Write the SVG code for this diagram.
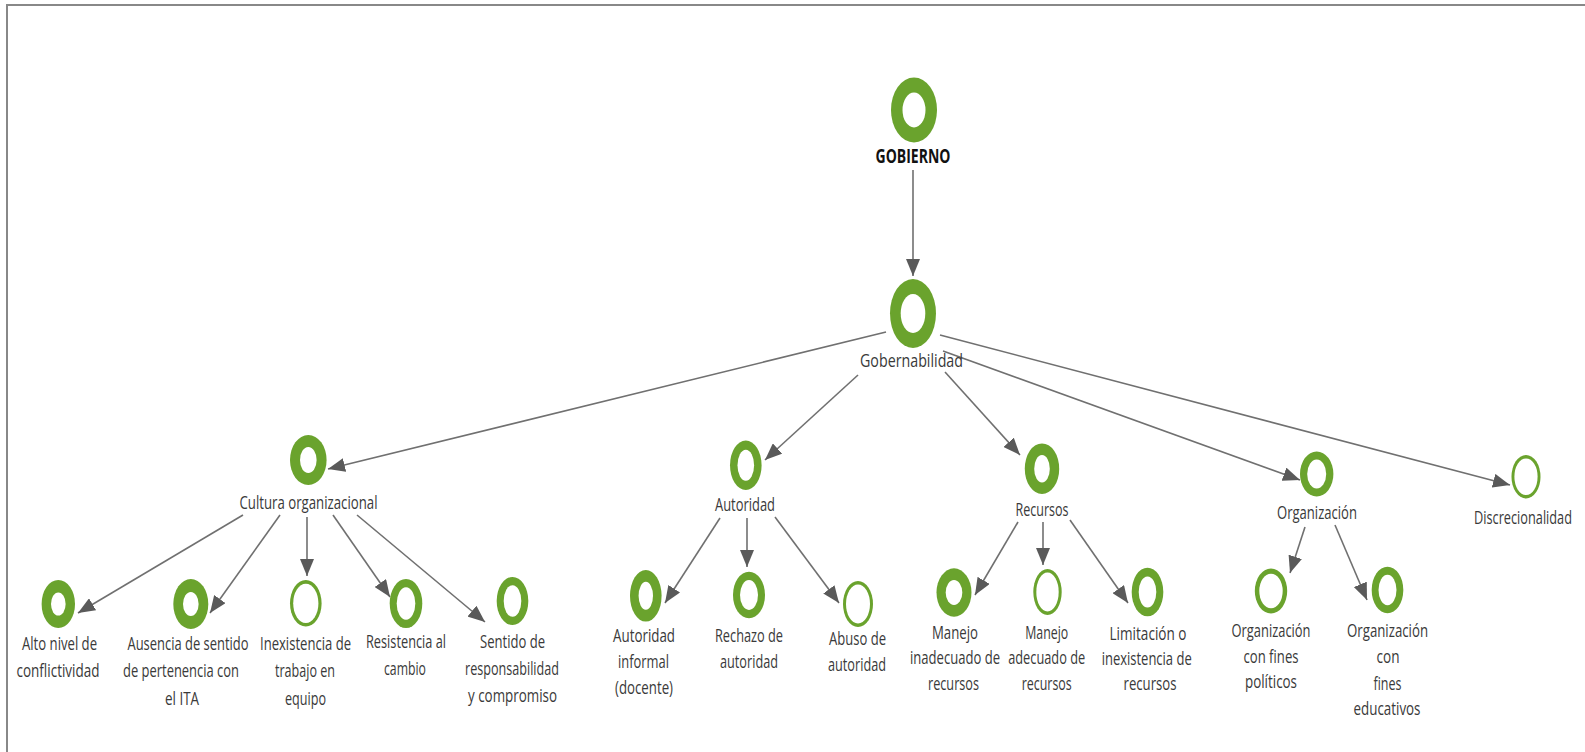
<svg xmlns="http://www.w3.org/2000/svg" width="1585" height="752" viewBox="0 0 1585 752">
<style>
.ring{fill:#6aa32d}
.hole{fill:#fff}
.lbl{font-family:"Open Sans","Noto Sans",sans-serif;font-size:18px;fill:#3a3a3a;text-anchor:middle}
.root{font-family:"Open Sans","Noto Sans",sans-serif;font-size:20px;font-weight:bold;fill:#111;text-anchor:middle}
.conn line{stroke:#707070;stroke-width:1.6;marker-end:url(#arr)}
</style>
<defs>
<marker id="arr" markerUnits="userSpaceOnUse" markerWidth="18" markerHeight="14" refX="17" refY="7" orient="auto">
<path d="M0,0 L17,7 L0,14 Z" fill="#5a5a5a"/>
</marker>
</defs>
<rect width="1585" height="752" fill="#fff"/>
<path d="M7,752 V5 H1585" fill="none" stroke="#888" stroke-width="2"/>
<g class="conn" id="connectors">
<line x1="913" y1="170" x2="913" y2="276"/>
<line x1="886" y1="332" x2="328" y2="469"/>
<line x1="858" y1="375" x2="765" y2="460"/>
<line x1="945" y1="372" x2="1020" y2="455"/>
<line x1="943" y1="351" x2="1300" y2="480"/>
<line x1="940" y1="335" x2="1510" y2="485"/>
<line x1="243" y1="515" x2="78" y2="613"/>
<line x1="280" y1="515" x2="210" y2="613"/>
<line x1="307" y1="517" x2="307" y2="576"/>
<line x1="333" y1="515" x2="390" y2="597"/>
<line x1="357" y1="515" x2="485" y2="622"/>
<line x1="720" y1="518" x2="665" y2="603"/>
<line x1="747" y1="518" x2="747" y2="567"/>
<line x1="775" y1="517" x2="839" y2="603"/>
<line x1="1018" y1="522" x2="975" y2="595"/>
<line x1="1043" y1="522" x2="1043" y2="565"/>
<line x1="1070" y1="520" x2="1128" y2="603"/>
<line x1="1305" y1="527" x2="1290" y2="573"/>
<line x1="1335" y1="525" x2="1367" y2="600"/>
</g>
<g id="gobierno">
<ellipse class="ring" cx="914" cy="110" rx="23" ry="32.5"/><ellipse class="hole" cx="914" cy="110" rx="11.5" ry="17.5"/>
<text class="root" x="913" y="163" textLength="75" lengthAdjust="spacingAndGlyphs">GOBIERNO</text>
</g>
<g id="gobernabilidad">
<ellipse class="ring" cx="913" cy="313.5" rx="23" ry="34.5"/><ellipse class="hole" cx="913" cy="313.5" rx="12.3" ry="19.5"/>
<text class="lbl" x="911.5" y="367" font-size="19" textLength="103" lengthAdjust="spacingAndGlyphs">Gobernabilidad</text>
</g>
<g id="cultura">
<ellipse class="ring" cx="308.3" cy="460" rx="18.3" ry="25"/><ellipse class="hole" cx="308.3" cy="460" rx="8.3" ry="13"/>
<text class="lbl" x="308.5" y="509" textLength="138" lengthAdjust="spacingAndGlyphs">Cultura organizacional</text>
</g>
<g id="autoridad">
<ellipse class="ring" cx="745.8" cy="465.3" rx="15.8" ry="24.7"/><ellipse class="hole" cx="745.8" cy="465.3" rx="8.3" ry="15.5"/>
<text class="lbl" x="745" y="511" textLength="60" lengthAdjust="spacingAndGlyphs">Autoridad</text>
</g>
<g id="recursos">
<ellipse class="ring" cx="1042" cy="468.7" rx="17.2" ry="25.3"/><ellipse class="hole" cx="1042" cy="468.7" rx="7.8" ry="13.8"/>
<text class="lbl" x="1042" y="516" textLength="53" lengthAdjust="spacingAndGlyphs">Recursos</text>
</g>
<g id="organizacion">
<ellipse class="ring" cx="1316.7" cy="474" rx="16.7" ry="22.5"/><ellipse class="hole" cx="1316.7" cy="474" rx="9.5" ry="14.5"/>
<text class="lbl" x="1317" y="519" textLength="80" lengthAdjust="spacingAndGlyphs">Organización</text>
</g>
<g id="discrecionalidad">
<ellipse class="ring" cx="1526" cy="476.7" rx="14.5" ry="21.7"/><ellipse class="hole" cx="1526" cy="476.7" rx="11.6" ry="18.3"/>
<text class="lbl" x="1523" y="524" textLength="98" lengthAdjust="spacingAndGlyphs">Discrecionalidad</text>
</g>
<g id="alto">
<ellipse class="ring" cx="58.3" cy="604" rx="16.7" ry="24"/><ellipse class="hole" cx="58.3" cy="604" rx="7.3" ry="11.5"/>
<text class="lbl" x="59.5" y="650" textLength="75" lengthAdjust="spacingAndGlyphs">Alto nivel de</text>
<text class="lbl" x="58" y="677" textLength="83" lengthAdjust="spacingAndGlyphs">conflictividad</text>
</g>
<g id="ausencia">
<ellipse class="ring" cx="190.8" cy="604" rx="17.5" ry="25"/><ellipse class="hole" cx="190.8" cy="604" rx="7.8" ry="12"/>
<text class="lbl" x="188" y="650" textLength="121" lengthAdjust="spacingAndGlyphs">Ausencia de sentido</text>
<text class="lbl" x="181" y="677" textLength="116" lengthAdjust="spacingAndGlyphs">de pertenencia con</text>
<text class="lbl" x="182" y="705" textLength="34" lengthAdjust="spacingAndGlyphs">el ITA</text>
</g>
<g id="inexistencia">
<ellipse class="ring" cx="305.8" cy="603.3" rx="15.8" ry="23.3"/><ellipse class="hole" cx="305.8" cy="603.3" rx="12.6" ry="19.6"/>
<text class="lbl" x="305.5" y="650" textLength="91" lengthAdjust="spacingAndGlyphs">Inexistencia de</text>
<text class="lbl" x="305" y="677" textLength="60" lengthAdjust="spacingAndGlyphs">trabajo en</text>
<text class="lbl" x="305.5" y="705" textLength="41" lengthAdjust="spacingAndGlyphs">equipo</text>
</g>
<g id="resistencia">
<ellipse class="ring" cx="406" cy="603.5" rx="16.3" ry="24.5"/><ellipse class="hole" cx="406" cy="603.5" rx="9.3" ry="16.3"/>
<text class="lbl" x="406" y="648" textLength="80" lengthAdjust="spacingAndGlyphs">Resistencia al</text>
<text class="lbl" x="405" y="675" textLength="42" lengthAdjust="spacingAndGlyphs">cambio</text>
</g>
<g id="sentido">
<ellipse class="ring" cx="512.5" cy="601" rx="15.8" ry="24"/><ellipse class="hole" cx="512.5" cy="601" rx="8.8" ry="15.8"/>
<text class="lbl" x="512.5" y="648" textLength="65" lengthAdjust="spacingAndGlyphs">Sentido de</text>
<text class="lbl" x="512" y="675" textLength="94" lengthAdjust="spacingAndGlyphs">responsabilidad</text>
<text class="lbl" x="512.5" y="702" textLength="89" lengthAdjust="spacingAndGlyphs">y compromiso</text>
</g>
<g id="autoridad-informal">
<ellipse class="ring" cx="645.8" cy="595.8" rx="15.8" ry="25.8"/><ellipse class="hole" cx="645.8" cy="595.8" rx="7.2" ry="14"/>
<text class="lbl" x="644" y="642" textLength="62" lengthAdjust="spacingAndGlyphs">Autoridad</text>
<text class="lbl" x="643.5" y="668" textLength="51" lengthAdjust="spacingAndGlyphs">informal</text>
<text class="lbl" x="644" y="694" textLength="58" lengthAdjust="spacingAndGlyphs">(docente)</text>
</g>
<g id="rechazo">
<ellipse class="ring" cx="749" cy="595" rx="16" ry="23.3"/><ellipse class="hole" cx="749" cy="595" rx="9" ry="15"/>
<text class="lbl" x="749" y="642" textLength="68" lengthAdjust="spacingAndGlyphs">Rechazo de</text>
<text class="lbl" x="749" y="668" textLength="58" lengthAdjust="spacingAndGlyphs">autoridad</text>
</g>
<g id="abuso">
<ellipse class="ring" cx="858" cy="604" rx="15" ry="23"/><ellipse class="hole" cx="858" cy="604" rx="12" ry="19.5"/>
<text class="lbl" x="857.5" y="645" textLength="57" lengthAdjust="spacingAndGlyphs">Abuso de</text>
<text class="lbl" x="857" y="671" textLength="58" lengthAdjust="spacingAndGlyphs">autoridad</text>
</g>
<g id="manejo-inadecuado">
<ellipse class="ring" cx="954" cy="592.5" rx="17.5" ry="24.2"/><ellipse class="hole" cx="954" cy="592.5" rx="8.3" ry="12.5"/>
<text class="lbl" x="955" y="639" textLength="46" lengthAdjust="spacingAndGlyphs">Manejo</text>
<text class="lbl" x="955" y="664" textLength="90" lengthAdjust="spacingAndGlyphs">inadecuado de</text>
<text class="lbl" x="953.5" y="690" textLength="51" lengthAdjust="spacingAndGlyphs">recursos</text>
</g>
<g id="manejo-adecuado">
<ellipse class="ring" cx="1047.5" cy="592" rx="14.2" ry="23"/><ellipse class="hole" cx="1047.5" cy="592" rx="11.2" ry="19.5"/>
<text class="lbl" x="1046.7" y="639" textLength="43" lengthAdjust="spacingAndGlyphs">Manejo</text>
<text class="lbl" x="1046.7" y="664" textLength="77" lengthAdjust="spacingAndGlyphs">adecuado de</text>
<text class="lbl" x="1046.7" y="690" textLength="50" lengthAdjust="spacingAndGlyphs">recursos</text>
</g>
<g id="limitacion">
<ellipse class="ring" cx="1147.5" cy="592" rx="15.8" ry="24.3"/><ellipse class="hole" cx="1147.5" cy="592" rx="8.8" ry="15.5"/>
<text class="lbl" x="1148" y="640" textLength="77" lengthAdjust="spacingAndGlyphs">Limitación o</text>
<text class="lbl" x="1146.7" y="665" textLength="90" lengthAdjust="spacingAndGlyphs">inexistencia de</text>
<text class="lbl" x="1150" y="690" textLength="53" lengthAdjust="spacingAndGlyphs">recursos</text>
</g>
<g id="org-politicos">
<ellipse class="ring" cx="1271" cy="591" rx="16.2" ry="22.5"/><ellipse class="hole" cx="1271" cy="591" rx="11.7" ry="17.3"/>
<text class="lbl" x="1271" y="637" textLength="79" lengthAdjust="spacingAndGlyphs">Organización</text>
<text class="lbl" x="1271" y="663" textLength="55" lengthAdjust="spacingAndGlyphs">con fines</text>
<text class="lbl" x="1271" y="688" textLength="52" lengthAdjust="spacingAndGlyphs">políticos</text>
</g>
<g id="org-educativos">
<ellipse class="ring" cx="1387.5" cy="590" rx="15.8" ry="23.3"/><ellipse class="hole" cx="1387.5" cy="590" rx="9" ry="15.3"/>
<text class="lbl" x="1387.5" y="637" textLength="81" lengthAdjust="spacingAndGlyphs">Organización</text>
<text class="lbl" x="1388" y="663" textLength="23" lengthAdjust="spacingAndGlyphs">con</text>
<text class="lbl" x="1387.5" y="690" textLength="28" lengthAdjust="spacingAndGlyphs">fines</text>
<text class="lbl" x="1387" y="715" textLength="67" lengthAdjust="spacingAndGlyphs">educativos</text>
</g>
</svg>
